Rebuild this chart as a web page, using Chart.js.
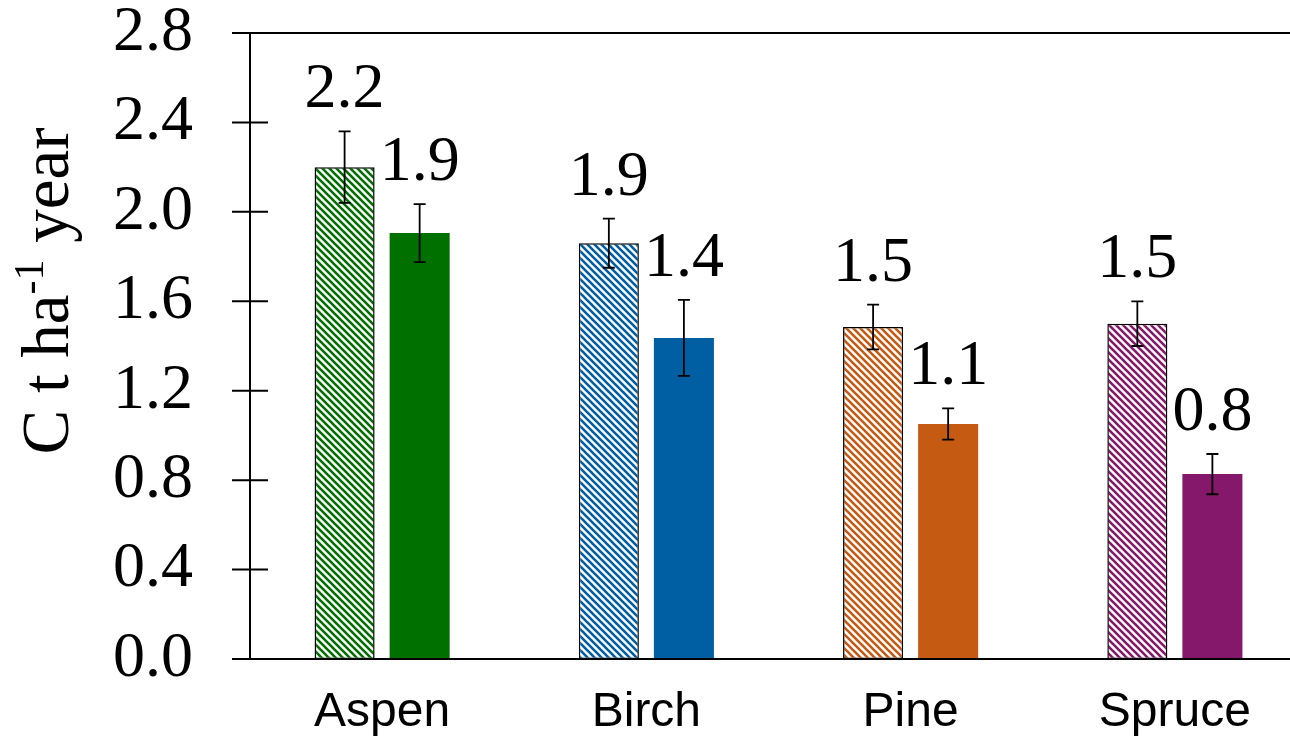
<!DOCTYPE html>
<html><head><meta charset="utf-8">
<script src="https://cdn.jsdelivr.net/npm/chart.js@4"></script>
<style>html,body{margin:0;padding:0;background:#fff;overflow:hidden}#wrap{width:1290px;height:742px;overflow:hidden;position:relative}#c{position:absolute;left:0;top:0}</style>
</head><body><div id="wrap"><canvas id="c" width="1310" height="742"></canvas></div>
<script>
const categories = ['Aspen', 'Birch', 'Pine', 'Spruce'];
const hatchedValues = [2.20, 1.86, 1.485, 1.50];
const hatchedErrors = [0.16, 0.11, 0.10, 0.10];
const solidValues = [1.905, 1.436, 1.051, 0.827];
const solidErrors = [0.13, 0.17, 0.07, 0.09];
const hatchedLabels = ['2.2', '1.9', '1.5', '1.5'];
const solidLabels = ['1.9', '1.4', '1.1', '0.8'];
const yTicks = [0, 0.4, 0.8, 1.2, 1.6, 2.0, 2.4, 2.8];
const colors = ['#007000', '#005ea2', '#c55a12', '#86186b'];

function makePattern(color) {
  const n = 7;
  const c = document.createElement('canvas');
  c.width = n; c.height = n;
  const g = c.getContext('2d');
  g.fillStyle = '#fff'; g.fillRect(0, 0, n, n);
  g.strokeStyle = color; g.lineWidth = 2.6;
  g.beginPath();
  g.moveTo(-1, -1); g.lineTo(n + 1, n + 1);
  g.moveTo(-1, n - 1); g.lineTo(1, n + 1);
  g.moveTo(n - 1, -1); g.lineTo(n + 1, 1);
  g.stroke();
  return g.createPattern(c, 'repeat');
}

const serif = '"Liberation Serif", "Times New Roman", serif';
const sans = '"Liberation Sans", Arial, sans-serif';

const errorsByDataset = [hatchedErrors, solidErrors];
const labelsByDataset = [hatchedLabels, solidLabels];

const decor = {
  id: 'decor',
  afterDatasetsDraw(chart) {
    const ctx = chart.ctx, y = chart.scales.y;
    ctx.save();
    chart.data.datasets.forEach((ds, di) => {
      const meta = chart.getDatasetMeta(di);
      meta.data.forEach((bar, i) => {
        const v = ds.data[i], e = errorsByDataset[di][i];
        const top = y.getPixelForValue(v + e), bot = y.getPixelForValue(v - e);
        ctx.strokeStyle = '#000'; ctx.lineWidth = 1.8;
        ctx.beginPath();
        ctx.moveTo(bar.x, top); ctx.lineTo(bar.x, bot);
        ctx.moveTo(bar.x - 6, top); ctx.lineTo(bar.x + 6, top);
        ctx.moveTo(bar.x - 6, bot); ctx.lineTo(bar.x + 6, bot);
        ctx.stroke();
        ctx.fillStyle = '#000';
        ctx.font = '64px ' + serif;
        ctx.textAlign = 'center'; ctx.textBaseline = 'alphabetic';
        ctx.fillText(labelsByDataset[di][i], bar.x, top - 24);
      });
    });
    ctx.restore();
  },
  afterDraw(chart) {
    const ctx = chart.ctx, y = chart.scales.y, a = chart.chartArea;
    ctx.save();
    ctx.strokeStyle = '#000'; ctx.lineWidth = 2;
    ctx.beginPath();
    yTicks.forEach(v => {
      const py = y.getPixelForValue(v);
      ctx.moveTo(a.left - 18, py); ctx.lineTo(a.left + 18, py);
    });
    const tp = y.getPixelForValue(2.8);
    ctx.moveTo(a.left - 18, tp); ctx.lineTo(a.right, tp);
    const bp = y.getPixelForValue(0);
    ctx.moveTo(a.left - 18, bp); ctx.lineTo(a.right, bp);
    ctx.stroke();
    // y title
    ctx.translate(68, 291);
    ctx.rotate(-Math.PI / 2);
    ctx.fillStyle = '#000';
    ctx.textBaseline = 'alphabetic'; ctx.textAlign = 'left';
    const big = '67px ' + serif, small = '42px ' + serif;
    ctx.font = big; const w1 = ctx.measureText('C t ha').width;
    ctx.font = small; const w2 = ctx.measureText('-1').width;
    ctx.font = big; const w3 = ctx.measureText(' year').width;
    let x0 = -(w1 + w2 + w3) / 2;
    ctx.font = big; ctx.fillText('C t ha', x0, 0);
    ctx.font = small; ctx.fillText('-1', x0 + w1, -25);
    ctx.font = big; ctx.fillText(' year', x0 + w1 + w2, 0);
    ctx.restore();
  }
};

new Chart(document.getElementById('c'), {
  type: 'bar',
  data: {
    labels: categories,
    datasets: [
      { data: hatchedValues, backgroundColor: colors.map(makePattern), borderColor: '#000', borderWidth: 1.5, borderSkipped: false,
        categoryPercentage: 0.568, barPercentage: 0.8 },
      { data: solidValues, backgroundColor: colors, borderWidth: 0,
        categoryPercentage: 0.568, barPercentage: 0.8 }
    ]
  },
  options: {
    responsive: false, maintainAspectRatio: false, animation: false, devicePixelRatio: 1,
    layout: { autoPadding: false, padding: { top: 33, right: 3, left: 0, bottom: 0 } },
    plugins: { legend: { display: false }, title: { display: false }, tooltip: { enabled: false } },
    scales: {
      x: {
        grid: { display: false, drawTicks: false },
        border: { display: true, color: '#000', width: 2 },
        ticks: { color: '#000', font: { family: sans, size: 48, lineHeight: 0.01 }, padding: 54 },
        afterFit: s => { s.height = 83; s.paddingLeft = 0; s.paddingRight = 0; }
      },
      y: {
        min: 0, max: 2.8,
        afterBuildTicks: s => { s.ticks = yTicks.map(v => ({ value: v })); },
        grid: { display: false, drawTicks: false },
        border: { display: true, color: '#000', width: 2 },
        ticks: { color: '#000', font: { family: serif, size: 64, lineHeight: 0.01 }, padding: 57, callback: v => v.toFixed(1) },
        afterFit: s => { s.width = 250; s.paddingTop = 0; s.paddingBottom = 0; }
      }
    }
  },
  plugins: [decor]
});
</script></body></html>
